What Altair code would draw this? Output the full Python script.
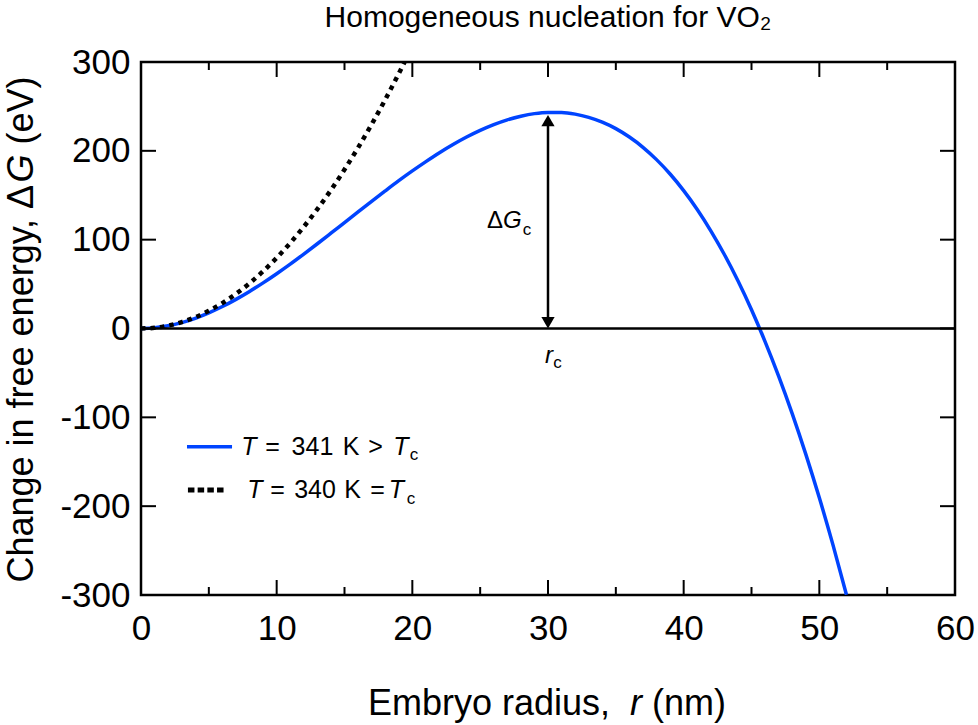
import altair as alt
import pandas as pd

FONT = "Liberation Sans"

# ---- data ----
r_341 = [0, 1, 2, 3, 4, 5, 6, 7, 8, 9, 10, 11, 12, 13, 14, 15, 16, 17, 18, 19,
         20, 21, 22, 23, 24, 25, 26, 27, 28, 29, 30, 31, 32, 33, 34, 35, 36, 37,
         38, 39, 40, 41, 42, 43, 44, 45, 46, 47, 48, 49, 50, 51, 52]
dG_341 = [0, 0.8, 3.0, 6.6, 11.5, 17.6, 24.7, 32.8, 41.7, 51.4,
          61.7, 72.5, 83.8, 95.4, 107.3, 119.3, 131.3, 143.2, 154.9, 166.4,
          177.4, 187.9, 197.9, 207.1, 215.5, 223.0, 229.5, 234.9, 239.0, 241.9,
          243.2, 243.1, 241.3, 237.7, 232.3, 225.0, 215.5, 204.0, 190.1, 173.9,
          155.2, 134.0, 110.0, 83.3, 53.7, 21.1, -14.7, -53.6, -95.8, -141.4,
          -190.6, -243.3, -299.8]

r_340 = [0, 1, 2, 3, 4, 5, 6, 7, 8, 9, 10, 11, 12, 13, 14, 15, 16, 17, 18, 19, 19.43]
dG_340 = [0, 0.8, 3.2, 7.2, 12.7, 19.9, 28.6, 39.0, 50.9, 64.4, 79.5, 96.2,
          114.5, 134.4, 155.8, 178.9, 203.5, 229.8, 257.6, 287.0, 300.0]

x_major = [0, 10, 20, 30, 40, 50, 60]
x_minor = [5, 15, 25, 35, 45, 55]
y_major = [-300, -200, -100, 0, 100, 200, 300]

r_c = 30
dG_c = 240.4

XS = alt.Scale(domain=[0, 60], nice=False, zero=False)
YS = alt.Scale(domain=[-300, 300], nice=False, zero=False)

AXX = alt.Axis(values=x_major, title=None, ticks=False, tickSize=0, domain=False, grid=False,
               labelFont=FONT, labelFontSize=35, labelColor="black", labelPadding=16,
               labelFlush=False, labelOverlap=False)
AXY = alt.Axis(values=y_major, title=None, ticks=False, tickSize=0, domain=False, grid=False,
               labelFont=FONT, labelFontSize=35, labelColor="black", labelPadding=11,
               labelFlush=False, labelOverlap=False, labelExpr="'' + datum.value")

BLUE = "#0044ff"


def xy(xf="x", yf="y"):
    return dict(x=alt.X(f"{xf}:Q", scale=XS, axis=AXX),
                y=alt.Y(f"{yf}:Q", scale=YS, axis=AXY))


blue = alt.Chart(pd.DataFrame({"x": r_341, "y": dG_341})).mark_line(
    color=BLUE, strokeWidth=3.5, interpolate="monotone", clip=True
).encode(**xy())

dotted = alt.Chart(pd.DataFrame({"x": r_340, "y": dG_340})).mark_line(
    color="black", strokeWidth=4.5, strokeDash=[4.5, 5], interpolate="monotone", clip=True
).encode(**xy())

zero = alt.Chart(pd.DataFrame({"x": [0], "x2": [60], "y": [0]})).mark_rule(
    color="black", strokeWidth=2.5
).encode(x2="x2:Q", **xy())


def xticks(vals, pos, size, off):
    df = pd.DataFrame({"x": vals, "y": [pos] * len(vals)})
    return alt.Chart(df).mark_tick(orient="vertical", size=size, thickness=2,
                                   color="black", opacity=1, yOffset=off).encode(**xy())


def yticks(vals, pos, size, off):
    df = pd.DataFrame({"x": [pos] * len(vals), "y": vals})
    return alt.Chart(df).mark_tick(orient="horizontal", size=size, thickness=2,
                                   color="black", opacity=1, xOffset=off).encode(**xy())


ticks = [
    xticks(x_major, -300, 15, -7.5), xticks(x_minor, -300, 8, -4),
    xticks(x_major, 300, 15, 7.5), xticks(x_minor, 300, 8, 4),
    yticks(y_major, 0, 15, 7.5), yticks(y_major, 60, 15, -7.5),
]

# arrow for the barrier height
shaft = alt.Chart(pd.DataFrame({"x": [r_c], "y": [8], "y2": [dG_c - 8]})).mark_rule(
    color="black", strokeWidth=2.5
).encode(y2="y2:Q", **xy())
head_up = alt.Chart(pd.DataFrame({"x": [r_c], "y": [dG_c]})).mark_point(
    shape="triangle-up", filled=True, size=175, color="black", opacity=1, yOffset=5.7
).encode(**xy())
head_dn = alt.Chart(pd.DataFrame({"x": [r_c], "y": [0]})).mark_point(
    shape="triangle-down", filled=True, size=175, color="black", opacity=1, yOffset=-5.7
).encode(**xy())

# legend samples
leg_blue = alt.Chart(pd.DataFrame({"x": [3.39], "x2": [6.71], "y": [-133.1]})).mark_rule(
    color=BLUE, strokeWidth=3.5
).encode(x2="x2:Q", **xy())
leg_dot = alt.Chart(pd.DataFrame({"x": [3.46], "x2": [6.10], "y": [-181.8]})).mark_rule(
    color="black", strokeWidth=5, strokeDash=[6.5, 3.2]
).encode(x2="x2:Q", **xy())


def texts(labels, xs_, ys_, **kw):
    df = pd.DataFrame({"t": labels, "x": xs_, "y": ys_})
    props = dict(font=FONT, color="black", align="center", baseline="alphabetic")
    props.update(kw)
    return alt.Chart(df).mark_text(**props).encode(text="t:N", **xy())


# title
title = texts(["Homogeneous nucleation for VO₂"], [30], [339.5], fontSize=30)

# legend text pieces (centres)
L1, L2 = -142.5, -191.2
leg_norm = texts(["=", "341", "K", ">", "=", "340", "K", "="],
                 [9.69, 12.64, 15.48, 17.28, 10.06, 12.83, 15.59, 17.43],
                 [L1, L1, L1, L1, L2, L2, L2, L2], fontSize=25)
leg_ital = texts(["T", "T", "T", "T"], [7.96, 19.16, 8.40, 18.83],
                 [L1, L1, L2, L2], fontSize=25, fontStyle="italic")
leg_sub = texts(["c", "c"], [20.12, 19.90], [-148.1, -197.1], fontSize=17)

# annotation text pieces (left-aligned, contiguous)
ann_norm = texts(["Δ"], [25.50], [112.8], fontSize=24, align="left")
ann_ital = texts(["G"], [26.68], [112.8], fontSize=24, align="left", fontStyle="italic")
ann_r = texts(["r"], [30.07], [-38.9], fontSize=24, fontStyle="italic")
ann_sub = texts(["c", "c"], [28.45, 30.70], [105.3, -44.5], fontSize=17)

# axis titles (with italic symbols)
XT = -435.2
xt_norm = texts(["Embryo radius,", "(nm)"], [16.73, 37.67], [XT, XT],
                fontSize=36, align="left")
xt_ital = texts(["r"], [36.05], [XT], fontSize=36, align="left", fontStyle="italic")
YTX = -7.96
yt_norm = texts(["Change in free energy, Δ", "(eV)"], [YTX, YTX], [-286.0, 207.2],
                fontSize=36, angle=270, align="left")
yt_ital = texts(["G"], [YTX], [164.4], fontSize=36, angle=270, align="left",
                fontStyle="italic")

chart = alt.layer(
    blue, zero, dotted, *ticks, shaft, head_up, head_dn, leg_blue, leg_dot,
    leg_norm, leg_ital, leg_sub, ann_norm, ann_ital, ann_r, ann_sub,
    xt_norm, xt_ital, yt_norm, yt_ital, title,
).properties(
    width=814, height=533,
    padding={"left": 141, "top": 62, "right": 23, "bottom": 130},
    autosize=alt.AutoSizeParams(type="none"),
).configure_view(stroke="black", strokeWidth=2.5)

chart.save("out.html", embed_options={"renderer": "svg", "actions": False})
